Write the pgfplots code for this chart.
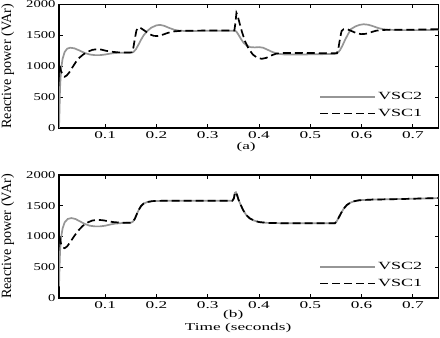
\documentclass[border=0pt]{standalone}
\usepackage{fontspec}
\setmainfont{Liberation Serif}
\usepackage{graphicx}
\usepackage{pgfplots}
\pgfplotsset{compat=1.18}
\definecolor{vgray}{RGB}{150,150,150}
\newcommand\W[1]{\scalebox{1.65}[1]{#1}}
\newcommand\T[1]{\scalebox{1.4}[1]{#1}}
\pgfplotsset{
  common/.style={
    scale only axis,
    width=379.5bp,
    xmin=0.01, xmax=0.75, ymin=0, ymax=2000,
    xtick={0.1,0.2,0.3,0.4,0.5,0.6,0.7},
    ytick={0,500,1000,1500,2000},
    axis line style={line width=1.6bp},
    tick style={line width=0.8bp, black},
    major tick length=4bp,
    tick align=inside,
    clip mode=individual,
    /pgf/number format/assume math mode=true,
    ticklabel style={font=\fontsize{10.5}{12}\selectfont},
    xticklabel={\W{\pgfmathprintnumber[fixed,precision=1]{\tick}}},
    yticklabel={\T{\pgfmathprintnumber[fixed,1000 sep={}]{\tick}}},
    ylabel={Reactive power (VAr)},
    ylabel style={at={(axis description cs:-0.135,0.5)}, anchor=center, font=\fontsize{14.2}{15}\selectfont},
    legend style={at={(axis description cs:0.963,0.065)}, anchor=south east, draw=none, fill=none,
      font=\fontsize{11}{12}\selectfont, inner sep=0pt, row sep=4bp},
    legend cell align=left,
    legend image code/.code={\draw[##1] (0bp,0bp) -- (55bp,0bp);},
  },
  vscb/.style={color=vgray, line width=1.7bp},
  vsca/.style={color=black, line width=1.7bp, dash pattern=on 8bp off 4bp},
}
\begin{document}
\begin{tikzpicture}
\useasboundingbox (0bp,0bp) rectangle (440bp,338bp);
% ---------------- (a)
\begin{axis}[common, at={(59bp,210bp)}, anchor=south west, height=123.5bp,
  xlabel={\W{(a)}}, xlabel style={at={(axis description cs:0.493,-0.151)}, anchor=center, font=\fontsize{10.5}{12}\selectfont}]
\addplot[vscb] coordinates {
(0.010,0) (0.011,300) (0.012,650) (0.014,950) (0.017,1120) (0.021,1230) (0.026,1285) (0.032,1300)
(0.040,1290) (0.050,1255) (0.060,1215) (0.070,1190) (0.080,1180) (0.090,1180) (0.100,1190)
(0.110,1205) (0.120,1215) (0.130,1220) (0.140,1220) (0.150,1220) (0.155,1230) (0.160,1275)
(0.165,1350) (0.170,1430) (0.175,1500) (0.182,1570) (0.190,1625) (0.200,1662) (0.207,1670)
(0.215,1655) (0.225,1620) (0.235,1590) (0.245,1575) (0.260,1570) (0.300,1575) (0.340,1575)
(0.353,1575) (0.356,1560) (0.360,1510) (0.365,1440) (0.370,1380) (0.376,1335) (0.383,1310)
(0.392,1305) (0.400,1310) (0.408,1300) (0.416,1270) (0.425,1235) (0.435,1205) (0.450,1190)
(0.480,1190) (0.520,1195) (0.548,1200) (0.553,1215) (0.558,1260) (0.563,1340) (0.568,1430)
(0.573,1510) (0.579,1600) (0.588,1645) (0.596,1670) (0.604,1680) (0.613,1672) (0.622,1650)
(0.632,1620) (0.642,1600) (0.655,1590) (0.680,1585) (0.720,1585) (0.750,1590)
};
\addlegendentry{\W{VSC2}}
\addplot[vsca] coordinates {
(0.011,1010) (0.014,920) (0.018,850) (0.021,830) (0.025,850) (0.030,900) (0.036,980) (0.043,1070)
(0.050,1140) (0.058,1195) (0.066,1235) (0.075,1265) (0.083,1275) (0.092,1270) (0.102,1250)
(0.112,1235) (0.125,1225) (0.140,1222) (0.152,1225) (0.155,1300) (0.158,1450) (0.161,1580)
(0.165,1630) (0.170,1615) (0.178,1570) (0.186,1520) (0.195,1492) (0.203,1490) (0.212,1510)
(0.222,1540) (0.235,1565) (0.250,1575) (0.300,1578) (0.352,1580) (0.354,1700) (0.356,1865)
(0.358,1830) (0.362,1700) (0.367,1550) (0.373,1400) (0.380,1280) (0.388,1190) (0.396,1140)
(0.405,1120) (0.414,1135) (0.424,1175) (0.434,1205) (0.445,1215) (0.480,1215) (0.520,1212)
(0.552,1210) (0.555,1300) (0.558,1450) (0.561,1570) (0.565,1600) (0.572,1600) (0.580,1572)
(0.590,1535) (0.599,1520) (0.608,1525) (0.618,1550) (0.628,1575) (0.640,1588) (0.660,1590)
(0.700,1592) (0.750,1600)
};
\addlegendentry{\W{VSC1}}
\end{axis}
% ---------------- (b)
\begin{axis}[common, at={(59bp,40bp)}, anchor=south west, height=123bp,
  xlabel={\W{(b)}}, xlabel style={at={(axis description cs:0.459,-0.136)}, anchor=center, font=\fontsize{10.5}{12}\selectfont}]
\addplot[vscb] coordinates {
(0.010,190) (0.011,500) (0.012,750) (0.014,980) (0.017,1130) (0.021,1230) (0.027,1285) (0.034,1300)
(0.042,1285) (0.050,1250) (0.060,1205) (0.070,1175) (0.080,1165) (0.090,1165) (0.100,1175)
(0.110,1195) (0.120,1210) (0.135,1220) (0.150,1225)
(0.154,1240) (0.158,1290) (0.162,1370) (0.166,1440) (0.170,1495) (0.175,1535) (0.182,1560)
(0.192,1575) (0.210,1580) (0.300,1580) (0.348,1580) (0.351,1620) (0.353,1710) (0.355,1720)
(0.357,1680) (0.360,1600) (0.364,1520) (0.369,1430) (0.375,1350) (0.382,1295) (0.390,1260)
(0.400,1235) (0.415,1222) (0.450,1215) (0.500,1215) (0.548,1215) (0.551,1240) (0.555,1300)
(0.560,1380) (0.565,1450) (0.571,1510) (0.578,1550) (0.586,1575) (0.596,1590) (0.620,1600)
(0.680,1610) (0.750,1625)
};
\addlegendentry{\W{VSC2}}
\addplot[vsca] coordinates {
(0.011,1000) (0.014,880) (0.018,820) (0.021,810) (0.026,840) (0.032,910) (0.040,1010) (0.048,1100)
(0.056,1170) (0.065,1225) (0.075,1260) (0.085,1270) (0.095,1265) (0.105,1250) (0.115,1235)
(0.130,1225) (0.150,1225)
(0.154,1240) (0.158,1290) (0.162,1370) (0.166,1440) (0.170,1495) (0.175,1535) (0.182,1560)
(0.192,1575) (0.210,1580) (0.300,1580) (0.348,1580) (0.351,1620) (0.353,1710) (0.355,1720)
(0.357,1680) (0.360,1600) (0.364,1520) (0.369,1430) (0.375,1350) (0.382,1295) (0.390,1260)
(0.400,1235) (0.415,1222) (0.450,1215) (0.500,1215) (0.548,1215) (0.551,1240) (0.555,1300)
(0.560,1380) (0.565,1450) (0.571,1510) (0.578,1550) (0.586,1575) (0.596,1590) (0.620,1600)
(0.680,1610) (0.750,1625)
};
\addlegendentry{\W{VSC1}}
\node[font=\fontsize{10.5}{12}\selectfont, anchor=center] at (axis description cs:0.472,-0.244) {\W{Time (seconds)}};
\end{axis}
\end{tikzpicture}
\end{document}
